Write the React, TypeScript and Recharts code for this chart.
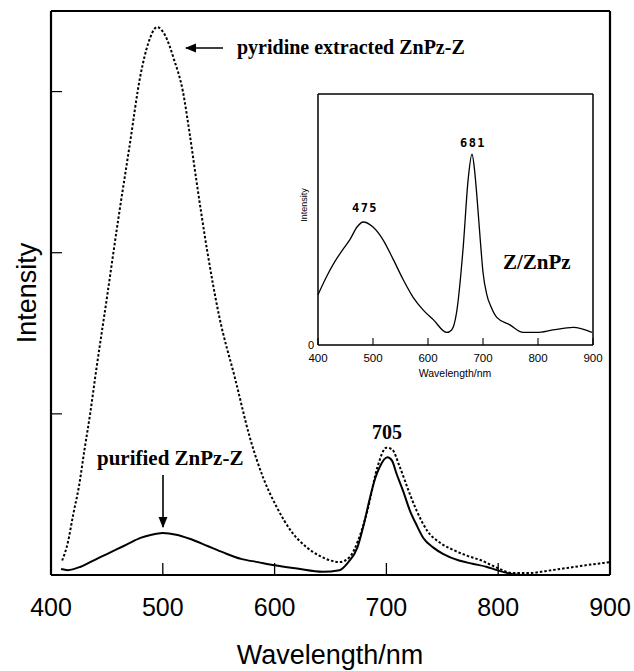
import React from "react";
import { LineChart, Line, XAxis, YAxis, ReferenceLine } from "recharts";

// Main chart: pyridine extracted ZnPz-Z (dotted)
const pyridineNm = [410, 415, 420, 425, 430, 435, 440, 450, 460, 470, 480, 487, 495, 502, 510, 518, 524, 530, 540, 550, 565, 578, 590, 602, 615, 629, 640, 650, 658, 667, 675, 683, 692, 700, 705, 712, 720, 727, 737, 748, 760, 772, 784, 799, 813, 828, 843, 858, 878, 900];
const pyridineI = [0.09, 0.2, 0.38, 0.55, 0.78, 1.0, 1.25, 1.72, 2.2, 2.65, 3.1, 3.3, 3.4, 3.35, 3.2, 3.0, 2.74, 2.45, 2.0, 1.62, 1.21, 0.85, 0.6, 0.42, 0.27, 0.17, 0.12, 0.09, 0.08, 0.11, 0.22, 0.4, 0.67, 0.79, 0.78, 0.67, 0.52, 0.4, 0.27, 0.2, 0.155, 0.12, 0.093, 0.045, 0.012, 0.012, 0.025, 0.04, 0.06, 0.08];

// Main chart: purified ZnPz-Z (solid)
const purifiedNm = [409, 415, 426, 435, 441, 450, 459, 468, 480, 490, 500, 512, 524, 540, 554, 570, 585, 600, 620, 643, 658, 666, 674, 680, 685, 690, 694, 701, 705, 709, 715, 721, 727, 733, 742, 751, 765, 777, 790, 799, 813, 825];
const purifiedI = [0.037, 0.03, 0.05, 0.08, 0.1, 0.13, 0.16, 0.19, 0.23, 0.25, 0.26, 0.25, 0.225, 0.18, 0.14, 0.1, 0.08, 0.06, 0.04, 0.02, 0.03, 0.08, 0.17, 0.32, 0.47, 0.6, 0.67, 0.73, 0.71, 0.63, 0.52, 0.4, 0.31, 0.23, 0.17, 0.13, 0.09, 0.07, 0.05, 0.03, 0.005, 0.0];

// Inset: Z/ZnPz
const insetNm = [400, 415, 430, 445, 458, 471, 482, 500, 518, 537, 555, 573, 591, 610, 634, 643, 652, 664, 673, 680, 685, 689, 695, 700, 707, 715, 725, 749, 773, 798, 827, 864, 898];
const insetI = [0.2, 0.27, 0.33, 0.38, 0.42, 0.47, 0.49, 0.47, 0.42, 0.34, 0.26, 0.19, 0.14, 0.1, 0.05, 0.06, 0.13, 0.39, 0.66, 0.76, 0.69, 0.59, 0.42, 0.29, 0.2, 0.15, 0.11, 0.08, 0.05, 0.05, 0.06, 0.07, 0.05];

const mainXTicks = [400, 500, 600, 700, 800, 900];
const mainYTicks = [1, 2, 3];
const insetXTicks = [400, 500, 600, 700, 800, 900];
const insetYTicks = [0];

const pyridineData = pyridineNm.map((x, i) => ({ x, y: pyridineI[i] }));
const purifiedData = purifiedNm.map((x, i) => ({ x, y: purifiedI[i] }));
const insetData = insetNm.map((x, i) => ({ x, y: insetI[i] }));

const SANS = "'Liberation Sans', Arial, Helvetica, sans-serif";
const SERIF = "'Liberation Serif', 'Times New Roman', serif";
const MONO = "'DejaVu Sans Mono', 'Liberation Mono', monospace";

const MainXTick = (props: any) => {
  const { x, y, payload } = props;
  return (
    <g>
      <path d={`M${x},${y} V${y - 12}`} stroke="#000" strokeWidth={1.3} fill="none" />
      <text x={x} y={y + 41} textAnchor="middle" fontSize={25} fontFamily={SANS} fill="#000" stroke="none">
        {payload.value}
      </text>
    </g>
  );
};

const MainYTick = (props: any) => {
  const { x, y } = props;
  return <path d={`M${x},${y} H${x + 11}`} stroke="#000" strokeWidth={1.2} fill="none" />;
};

const InsetXTick = (props: any) => {
  const { x, y, payload } = props;
  return (
    <g>
      <path d={`M${x},${y} V${y - 7}`} stroke="#000" strokeWidth={1.1} fill="none" />
      <text x={x} y={y + 17} textAnchor="middle" fontSize={11.5} fontFamily={SANS} fill="#000" stroke="none">
        {payload.value}
      </text>
    </g>
  );
};

export default function App() {
  return (
    <div style={{ position: "absolute", left: 0, top: 0, width: 634, height: 671, background: "#fff" }}>
      <div style={{ position: "absolute", left: 0, top: 0 }}>
        <LineChart width={634} height={671} margin={{ top: 11, right: 24, bottom: 0, left: 0 }}>
          <XAxis
            dataKey="x"
            type="number"
            domain={[400, 900]}
            ticks={mainXTicks}
            height={96}
            tickSize={0}
            tickMargin={0}
            axisLine={{ stroke: "#000", strokeWidth: 2.2 }}
            tickLine={false}
            tick={MainXTick}
          />
          <YAxis
            type="number"
            domain={[0, 3.5]}
            ticks={mainYTicks}
            width={51}
            tickSize={0}
            tickMargin={0}
            tick={MainYTick}
            axisLine={{ stroke: "#000", strokeWidth: 2.2 }}
            tickLine={false}
          />
          <ReferenceLine y={3.5} stroke="#000" strokeWidth={2.2} />
          <ReferenceLine x={900} stroke="#000" strokeWidth={2.2} />
          <Line
            data={pyridineData}
            dataKey="y"
            type="monotone"
            stroke="#000"
            strokeWidth={2}
            strokeDasharray="2.5 2"
            dot={false}
            isAnimationActive={false}
          />
          <Line
            data={purifiedData}
            dataKey="y"
            type="monotone"
            stroke="#000"
            strokeWidth={2}
            dot={false}
            isAnimationActive={false}
          />
        </LineChart>
      </div>

      <div style={{ position: "absolute", left: 290, top: 84 }}>
        <LineChart width={320} height={300} margin={{ top: 10, right: 17, bottom: 0, left: 0 }}>
          <XAxis
            dataKey="x"
            type="number"
            domain={[400, 900]}
            ticks={insetXTicks}
            height={39}
            tickSize={0}
            tickMargin={0}
            axisLine={{ stroke: "#000", strokeWidth: 1.5 }}
            tickLine={false}
            tick={InsetXTick}
          />
          <YAxis
            type="number"
            domain={[0, 1]}
            ticks={insetYTicks}
            width={28}
            tickSize={0}
            tickMargin={4}
            tickLine={false}
            axisLine={{ stroke: "#000", strokeWidth: 1.5 }}
            tick={{ fontSize: 11, fill: "#000", fontFamily: SANS }}
          />
          <ReferenceLine y={1} stroke="#000" strokeWidth={1.5} />
          <ReferenceLine x={900} stroke="#000" strokeWidth={1.5} />
          <Line
            data={insetData}
            dataKey="y"
            type="monotone"
            stroke="#000"
            strokeWidth={1.3}
            dot={false}
            isAnimationActive={false}
          />
        </LineChart>
      </div>

      <svg
        width={634}
        height={671}
        style={{ position: "absolute", left: 0, top: 0, pointerEvents: "none" }}
      >
        <defs>
          <marker id="ah" viewBox="0 0 10 10" refX="9" refY="5" markerWidth="7" markerHeight="7" orient="auto-start-reverse">
            <path d="M0,1 L10,5 L0,9 z" fill="#000" />
          </marker>
        </defs>
        <text x={36} y={293} transform="rotate(-90 36 293)" textAnchor="middle" fontSize={27} fontFamily={SANS} fill="#000">
          Intensity
        </text>
        <text x={330} y={664} textAnchor="middle" fontSize={27} fontFamily={SANS} fill="#000">
          Wavelength/nm
        </text>
        <text x={237} y={54} fontSize={20} fontWeight="bold" fontFamily={SERIF} fill="#000">
          pyridine extracted ZnPz-Z
        </text>
        <line x1={223} y1={48} x2={186} y2={48} stroke="#000" strokeWidth={1.6} markerEnd="url(#ah)" />
        <text x={97} y={465} fontSize={21} fontWeight="bold" fontFamily={SERIF} fill="#000">
          purified ZnPz-Z
        </text>
        <line x1={163} y1={475} x2={163} y2={527} stroke="#000" strokeWidth={1.6} markerEnd="url(#ah)" />
        <text x={387} y={439} textAnchor="middle" fontSize={20} fontWeight="bold" fontFamily={SERIF} fill="#000">
          705
        </text>
        <text x={503} y={269} fontSize={21} fontWeight="bold" fontFamily={SERIF} fill="#000">
          Z/ZnPz
        </text>
        <text x={473} y={147} textAnchor="middle" fontSize={12} fontWeight="bold" fontFamily={MONO} letterSpacing={1.5} fill="#000">
          681
        </text>
        <text x={365} y={212} textAnchor="middle" fontSize={12} fontWeight="bold" fontFamily={MONO} letterSpacing={1.5} fill="#000">
          475
        </text>
        <text x={307} y={205} transform="rotate(-90 307 205)" textAnchor="middle" fontSize={9} fontFamily={SANS} fill="#000">
          Intensity
        </text>
        <text x={455} y={377} textAnchor="middle" fontSize={10.5} fontFamily={SANS} fill="#000">
          Wavelength/nm
        </text>
      </svg>
    </div>
  );
}
